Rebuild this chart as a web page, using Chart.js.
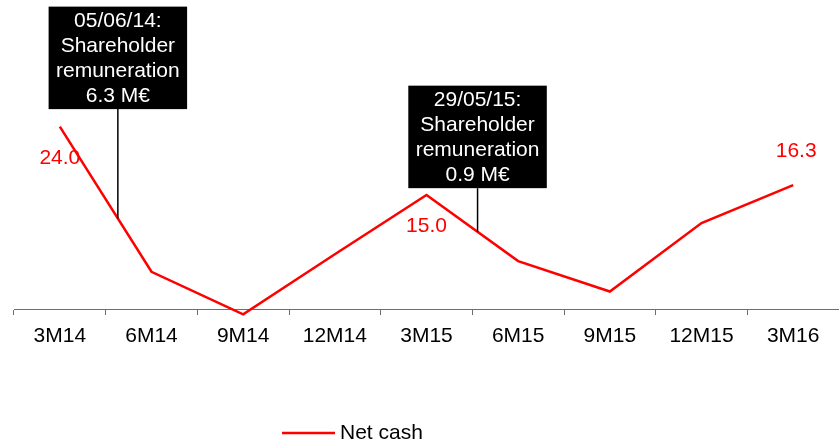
<!DOCTYPE html>
<html>
<head>
<meta charset="utf-8">
<script src="https://cdn.jsdelivr.net/npm/chart.js@4/dist/chart.umd.min.js"></script>
<style>
  html, body { margin: 0; padding: 0; background: #ffffff; }
  #wrap { width: 839px; height: 445px; }
</style>
</head>
<body>
<div id="wrap"><canvas id="c" width="839" height="445"></canvas></div>
<script>
// ---- data ----
const categories = ["3M14", "6M14", "9M14", "12M14", "3M15", "6M15", "9M15", "12M15", "3M16"];
const netCash = [24.0, 4.9, -0.7, 7.2, 15.0, 6.3, 2.3, 11.3, 16.3];
const seriesName = "Net cash";
const labelledIndexes = [0, 4, 8];
const annotationTexts = [
  ["05/06/14:", "Shareholder", "remuneration", "6.3 M\u20AC"],
  ["29/05/15:", "Shareholder", "remuneration", "0.9 M\u20AC"]
];
const annotationAt = [0.633, 4.557];      // fractional category index
const annotationBoxBottom = [26.3, 15.9]; // value level of box bottom

const FONT = 'Arial, "Liberation Sans", sans-serif';

function interpPixel(chart, f) {
  const xs = chart.scales.x, ys = chart.scales.y;
  const i = Math.floor(f), t = f - i;
  const x0 = xs.getPixelForValue(i), x1 = xs.getPixelForValue(i + 1);
  const y0 = ys.getPixelForValue(netCash[i]), y1 = ys.getPixelForValue(netCash[i + 1]);
  return { x: x0 + t * (x1 - x0), y: y0 + t * (y1 - y0) };
}

const overlay = {
  id: 'overlay',
  afterDatasetsDraw(chart) {
    const ctx = chart.ctx;
    const ys = chart.scales.y;
    const meta = chart.getDatasetMeta(0);
    ctx.save();
    // data labels
    ctx.font = '21px ' + FONT;
    ctx.fillStyle = '#FF0000';
    ctx.textAlign = 'center';
    ctx.textBaseline = 'middle';
    const offs = { 0: [0, 32], 4: [0, 31.5], 8: [3, -34] };
    labelledIndexes.forEach(i => {
      const p = meta.data[i];
      const o = offs[i] || [0, -30];
      ctx.fillText(netCash[i].toFixed(1), p.x + o[0], p.y + o[1]);
    });
    // annotations
    annotationTexts.forEach((lines, k) => {
      const anchor = interpPixel(chart, annotationAt[k]);
      const bottom = ys.getPixelForValue(annotationBoxBottom[k]);
      const w = 138.5, h = 102.5;
      const top = bottom - h;
      ctx.fillStyle = '#000000';
      ctx.fillRect(anchor.x - w / 2, top, w, h);
      ctx.strokeStyle = '#000000';
      ctx.lineWidth = 1.5;
      ctx.beginPath();
      ctx.moveTo(anchor.x, bottom);
      ctx.lineTo(anchor.x, anchor.y);
      ctx.stroke();
      ctx.fillStyle = '#ffffff';
      ctx.font = '21px ' + FONT;
      ctx.textAlign = 'center';
      ctx.textBaseline = 'middle';
      lines.forEach((ln, j) => {
        ctx.fillText(ln, anchor.x, top + 15 + j * 24.7);
      });
    });
    ctx.restore();
  },
  afterDraw(chart) {
    // legend
    const ctx = chart.ctx;
    const ds = chart.data.datasets[0];
    ctx.save();
    ctx.strokeStyle = ds.borderColor;
    ctx.lineWidth = ds.borderWidth;
    ctx.beginPath();
    ctx.moveTo(282, 433);
    ctx.lineTo(335, 433);
    ctx.stroke();
    ctx.fillStyle = '#000000';
    ctx.font = '21px ' + FONT;
    ctx.textAlign = 'left';
    ctx.textBaseline = 'middle';
    ctx.fillText(ds.label, 340, 433);
    ctx.restore();
  }
};

new Chart(document.getElementById('c'), {
  type: 'line',
  data: {
    labels: categories,
    datasets: [{
      label: seriesName,
      data: netCash,
      borderColor: '#FF0000',
      backgroundColor: '#FF0000',
      borderWidth: 2.5,
      pointRadius: 0,
      tension: 0,
      clip: false
    }]
  },
  options: {
    responsive: false,
    animation: false,
    layout: { padding: { left: 14, right: 0, top: 81, bottom: 87.8 } },
    plugins: { legend: { display: false }, tooltip: { enabled: false } },
    scales: {
      x: {
        type: 'category',
        offset: true,
        grid: { display: true, drawOnChartArea: false, offset: true, tickLength: 6, color: '#6e6e6e', lineWidth: 1 },
        border: { display: true, color: '#6e6e6e', width: 1 },
        ticks: { color: '#000000', font: { family: FONT, size: 21 }, padding: 8.5, maxRotation: 0, autoSkip: false }
      },
      y: {
        display: false,
        min: 0,
        max: 30
      }
    }
  },
  plugins: [overlay]
});
</script>
</body>
</html>
